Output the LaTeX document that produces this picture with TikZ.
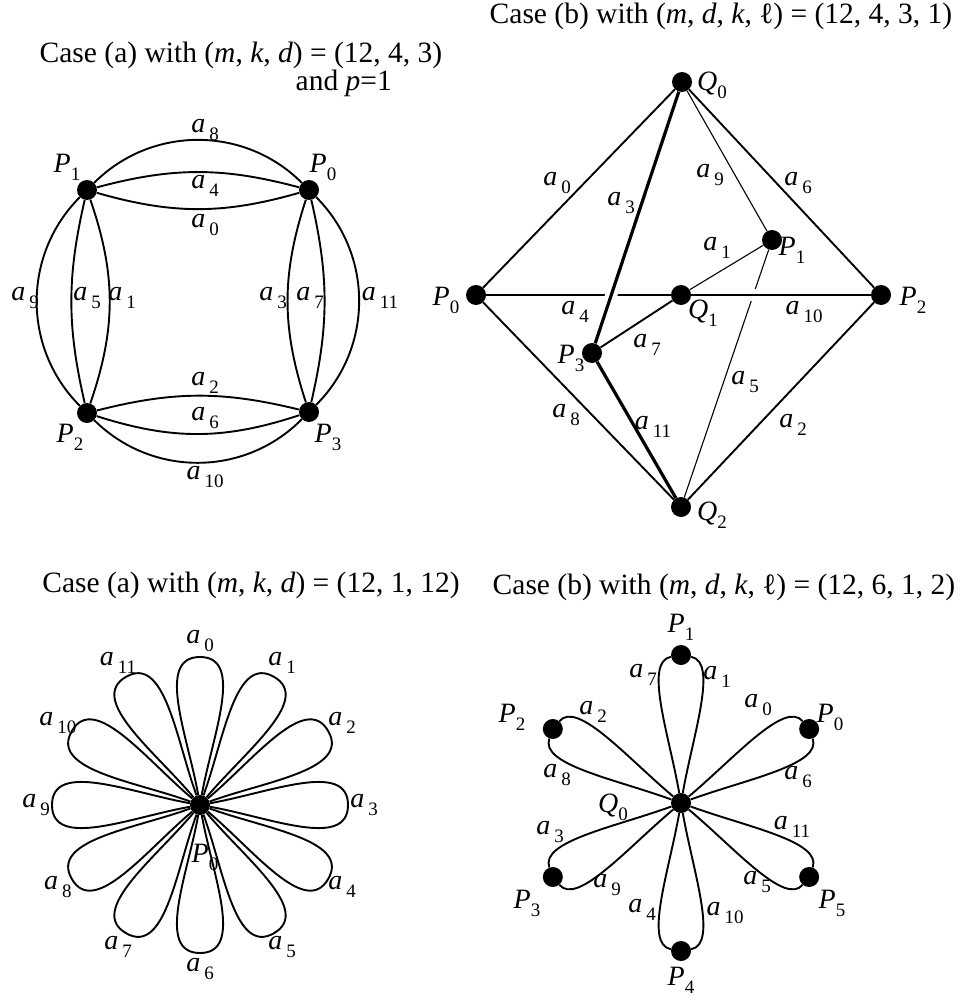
\documentclass[tikz,border=0pt]{standalone}
\usepackage{fontspec}
\setmainfont{Liberation Serif}

\newcommand{\ea}[1]{\textit{a}\kern4pt\raisebox{-8pt}{\fontsize{19}{19}\selectfont #1}}
\newcommand{\vtx}[2]{\textit{#1}\raisebox{-8pt}{\fontsize{19}{19}\selectfont #2}}

\tikzset{
  vdot/.style={circle, fill, inner sep=0pt, minimum size=20pt},
  arcline/.style={line width=1.9pt},
  thinline/.style={line width=1.1pt},
  thickline/.style={line width=3.2pt},
  halo/.style={preaction={draw, white, line width=12pt}},
  lbl/.style={inner sep=0pt, font=\fontsize{28}{28}\selectfont},
  heading/.style={inner sep=0pt, font=\fontsize{29.5}{33}\selectfont},
}

\begin{document}
\begin{tikzpicture}[x=1pt, y=1pt]
    \useasboundingbox (0,0) rectangle (962,-1003);

    % case (a), (m,k,d) = (12,4,3)
    \node[heading] (ta) at (241,-55) {Case (a) with (\textit{m}, \textit{k}, \textit{d}) = (12, 4, 3)};
    \node[heading, anchor=east] (ta2) at (392,-83) {and \textit{p}=1};
    \node[vdot] (a-p1) at (87,-190) {};
    \node[vdot] (a-p0) at (309,-190) {};
    \node[vdot] (a-p2) at (87,-413) {};
    \node[vdot] (a-p3) at (309,-412) {};
    \draw[arcline] (a-p1) to[bend left=45] (a-p0);
    \draw[arcline] (a-p1) to[bend left=15] (a-p0);
    \draw[arcline] (a-p1) to[bend right=16] (a-p0);
    \draw[arcline] (a-p0) to[bend left=45] (a-p3);
    \draw[arcline] (a-p0) to[bend left=13] (a-p3);
    \draw[arcline] (a-p0) to[bend right=18] (a-p3);
    \draw[arcline] (a-p3) to[bend left=45] (a-p2);
    \draw[arcline] (a-p3) to[bend left=18] (a-p2);
    \draw[arcline] (a-p3) to[bend right=14] (a-p2);
    \draw[arcline] (a-p2) to[bend left=45] (a-p1);
    \draw[arcline] (a-p2) to[bend left=13] (a-p1);
    \draw[arcline] (a-p2) to[bend right=19] (a-p1);
    \node[lbl] (a-vp1) at (67,-167) {\vtx{P}{1}};
    \node[lbl] (a-vp0) at (323,-167) {\vtx{P}{0}};
    \node[lbl] (a-vp2) at (70,-437) {\vtx{P}{2}};
    \node[lbl] (a-vp3) at (328,-437) {\vtx{P}{3}};
    \node[lbl] (a-a8) at (205,-130) {\ea{8}};
    \node[lbl] (a-a4) at (205,-186) {\ea{4}};
    \node[lbl] (a-a0) at (205,-225) {\ea{0}};
    \node[lbl] (a-a9) at (25,-298) {\ea{9}};
    \node[lbl] (a-a5) at (87,-298) {\ea{5}};
    \node[lbl] (a-a1) at (122,-298) {\ea{1}};
    \node[lbl] (a-a3) at (273,-298) {\ea{3}};
    \node[lbl] (a-a7) at (310,-298) {\ea{7}};
    \node[lbl] (a-a11) at (380,-298) {\ea{11}};
    \node[lbl] (a-a2) at (205,-383) {\ea{2}};
    \node[lbl] (a-a6) at (205,-418) {\ea{6}};
    \node[lbl] (a-a10) at (205,-477) {\ea{10}};

    % case (b), (m,d,k,l) = (12,4,3,1)
    \node[heading] (tb) at (721,-16) {Case (b) with (\textit{m}, \textit{d}, \textit{k}, ℓ) = (12, 4, 3, 1)};
    \node[vdot] (b-q0) at (682,-82) {};
    \node[vdot] (b-p0) at (476,-295) {};
    \node[vdot] (b-q1) at (681,-295) {};
    \node[vdot] (b-p2) at (881,-295) {};
    \node[vdot] (b-p1) at (772,-240) {};
    \node[vdot] (b-p3) at (592,-353) {};
    \node[vdot] (b-q2) at (681,-507) {};
    \draw[arcline] (b-p0) -- (b-q1);
    \draw[thickline, halo] (b-q0) -- (b-p3);
    \draw[thinline] (b-p1) -- (b-q2);
    \draw[arcline, halo] (b-q1) -- (b-p2);
    \draw[arcline] (b-q0) -- (b-p0);
    \draw[arcline] (b-q0) -- (b-p2);
    \draw[arcline] (b-p0) -- (b-q2);
    \draw[arcline] (b-p2) -- (b-q2);
    \draw[thinline] (b-q0) -- (b-p1);
    \draw[thinline] (b-q1) -- (b-p1);
    \draw[arcline] (b-p3) -- (b-q1);
    \draw[thickline] (b-p3) -- (b-q2);
    \node[lbl] (b-vq0) at (712,-85) {\vtx{Q}{0}};
    \node[lbl] (b-vp0) at (446,-300) {\vtx{P}{0}};
    \node[lbl] (b-vp2) at (913,-300) {\vtx{P}{2}};
    \node[lbl] (b-vq1) at (703,-313) {\vtx{Q}{1}};
    \node[lbl] (b-vp1) at (792,-250) {\vtx{P}{1}};
    \node[lbl] (b-vp3) at (571,-358) {\vtx{P}{3}};
    \node[lbl] (b-vq2) at (712,-515) {\vtx{Q}{2}};
    \node[lbl] (b-a0) at (557,-183) {\ea{0}};
    \node[lbl] (b-a3) at (621,-203) {\ea{3}};
    \node[lbl] (b-a9) at (710,-175) {\ea{9}};
    \node[lbl] (b-a6) at (798,-183) {\ea{6}};
    \node[lbl] (b-a1) at (717,-248) {\ea{1}};
    \node[lbl] (b-a4) at (575,-312) {\ea{4}};
    \node[lbl] (b-a10) at (804,-312) {\ea{10}};
    \node[lbl] (b-a7) at (647,-345) {\ea{7}};
    \node[lbl] (b-a5) at (745,-382) {\ea{5}};
    \node[lbl] (b-a8) at (566,-415) {\ea{8}};
    \node[lbl] (b-a11) at (653,-427) {\ea{11}};
    \node[lbl] (b-a2) at (793,-425) {\ea{2}};

    % case (a), (m,k,d) = (12,1,12)
    \node[heading] (tc) at (251,-585) {Case (a) with (\textit{m}, \textit{k}, \textit{d}) = (12, 1, 12)};
    \node[vdot] (c-p0) at (200,-805) {};
    \foreach \i in {0,...,11} {
        \pgfmathsetmacro{\ang}{90-30*\i}
        \path (c-p0) ++(\ang:148) coordinate (c-t\i);
        \draw[arcline] (c-p0) .. controls +(\ang+10:70) and +(\ang+90:45) .. (c-t\i)
            .. controls +(\ang-90:45) and +(\ang-10:70) .. (c-p0);
        \path (c-p0) ++(\ang:164) node[lbl] (c-a\i) {\ea{\i}};
    }
    \node[lbl] (c-vp0) at (205,-857) {\vtx{P}{0}};

    % case (b), (m,d,k,l) = (12,6,1,2)
    \node[heading] (td) at (724,-587) {Case (b) with (\textit{m}, \textit{d}, \textit{k}, ℓ) = (12, 6, 1, 2)};
    \node[vdot] (d-q0) at (681,-803) {};
    \foreach \j/\ang in {0/30, 1/90, 2/150, 3/210, 4/270, 5/330} {
        \path (d-q0) ++(\ang:148) node[vdot] (d-p\j) {};
        \draw[arcline] (d-q0) .. controls +(\ang+10:70) and +(\ang+100:38) .. (d-p\j);
        \draw[arcline] (d-q0) .. controls +(\ang-10:70) and +(\ang-100:38) .. (d-p\j);
    }
    \node[lbl] (d-vq0) at (613,-807) {\vtx{Q}{0}};
    \node[lbl] (d-vp1) at (681,-627) {\vtx{P}{1}};
    \node[lbl] (d-vp0) at (830,-717) {\vtx{P}{0}};
    \node[lbl] (d-vp2) at (512,-717) {\vtx{P}{2}};
    \node[lbl] (d-vp3) at (527,-903) {\vtx{P}{3}};
    \node[lbl] (d-vp5) at (832,-903) {\vtx{P}{5}};
    \node[lbl] (d-vp4) at (681,-980) {\vtx{P}{4}};
    \node[lbl] (d-a7) at (643,-675) {\ea{7}};
    \node[lbl] (d-a1) at (717,-677) {\ea{1}};
    \node[lbl] (d-a0) at (758,-705) {\ea{0}};
    \node[lbl] (d-a6) at (798,-777) {\ea{6}};
    \node[lbl] (d-a2) at (593,-712) {\ea{2}};
    \node[lbl] (d-a8) at (557,-775) {\ea{8}};
    \node[lbl] (d-a3) at (550,-832) {\ea{3}};
    \node[lbl] (d-a9) at (607,-885) {\ea{9}};
    \node[lbl] (d-a11) at (792,-827) {\ea{11}};
    \node[lbl] (d-a5) at (757,-882) {\ea{5}};
    \node[lbl] (d-a4) at (642,-910) {\ea{4}};
    \node[lbl] (d-a10) at (725,-913) {\ea{10}};
\end{tikzpicture}
\end{document}
